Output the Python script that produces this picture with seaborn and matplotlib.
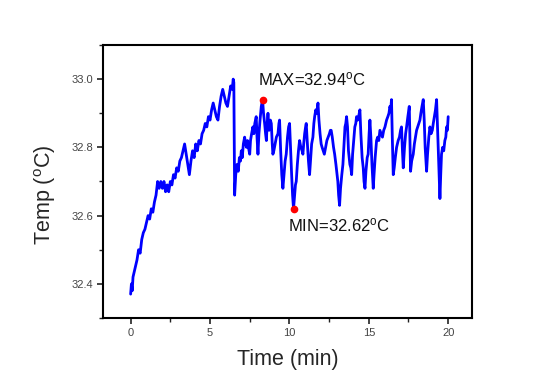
import numpy as np
import pandas as pd
import matplotlib
matplotlib.use("Agg")
import matplotlib.pyplot as plt
import seaborn as sns
from matplotlib.ticker import MultipleLocator

# rising part (0 - 6.5 min)
time_rise = [0.0, 0.05, 0.1, 0.15, 0.2, 0.3, 0.4, 0.5, 0.6, 0.7, 0.8, 0.9, 1.0, 1.1, 1.2, 1.3, 1.4, 1.5, 1.6,
             1.7, 1.8, 1.9, 2.0, 2.1, 2.2, 2.3, 2.4, 2.5, 2.6, 2.7, 2.8, 2.9, 3.0, 3.1, 3.2, 3.3, 3.4, 3.5,
             3.6, 3.7, 3.8, 3.9, 4.0, 4.1, 4.2, 4.3, 4.4, 4.5, 4.6, 4.7, 4.8, 4.9, 5.0, 5.1, 5.2, 5.3, 5.4,
             5.5, 5.6, 5.7, 5.8, 5.9, 6.0, 6.1, 6.2, 6.3, 6.4, 6.46]
temp_rise = [32.37, 32.40, 32.38, 32.42, 32.43, 32.45, 32.47, 32.50, 32.49, 32.53, 32.55, 32.56, 32.58,
             32.60, 32.59, 32.62, 32.61, 32.64, 32.66, 32.70, 32.68, 32.70, 32.68, 32.70, 32.67, 32.69,
             32.67, 32.70, 32.69, 32.72, 32.71, 32.74, 32.73, 32.76, 32.77, 32.79, 32.81, 32.78, 32.75,
             32.72, 32.76, 32.79, 32.77, 32.81, 32.79, 32.82, 32.81, 32.84, 32.85, 32.87, 32.86, 32.89,
             32.88, 32.91, 32.93, 32.91, 32.89, 32.88, 32.92, 32.95, 32.97, 32.95, 32.93, 32.92, 32.95,
             32.98, 32.97, 33.0]

# oscillating part (6.5 - 20 min)
time_osc = [6.50, 6.55, 6.62, 6.70, 6.78, 6.85, 6.92, 6.97, 7.03, 7.10, 7.18, 7.24, 7.30, 7.36, 7.42, 7.50,
            7.55, 7.62, 7.70, 7.76, 7.82, 7.91, 7.96, 8.02, 8.08, 8.15, 8.23, 8.31, 8.37, 8.44, 8.50, 8.55,
            8.60, 8.65, 8.72, 8.80, 8.86, 8.92, 8.96, 9.02, 9.10, 9.18, 9.28, 9.34, 9.38, 9.45, 9.52, 9.59,
            9.66, 9.73, 9.80, 9.88, 9.95, 10.01, 10.07, 10.14, 10.20, 10.26, 10.33, 10.38, 10.43, 10.50,
            10.57, 10.64, 10.72, 10.80, 10.85, 10.90, 10.96, 11.02, 11.06, 11.12, 11.20, 11.27, 11.33,
            11.40, 11.48, 11.54, 11.59, 11.66, 11.72, 11.80, 11.86, 11.93, 12.00, 12.06, 12.13, 12.20,
            12.28, 12.36, 12.44, 12.52, 12.58, 12.63, 12.70, 12.78, 12.85, 12.93, 13.00, 13.05, 13.10,
            13.16, 13.22, 13.30, 13.37, 13.44, 13.50, 13.55, 13.60, 13.66, 13.72, 13.81, 13.87, 13.92,
            13.98, 14.05, 14.12, 14.18, 14.23, 14.30, 14.36, 14.44, 14.50, 14.58, 14.65, 14.70, 14.76,
            14.82, 14.90, 14.96, 15.02, 15.07, 15.13, 15.20, 15.28, 15.33, 15.40, 15.49, 15.56, 15.63,
            15.70, 15.78, 15.86, 15.94, 16.02, 16.12, 16.20, 16.27, 16.33, 16.38, 16.43, 16.48, 16.54,
            16.60, 16.67, 16.75, 16.85, 16.93, 17.00, 17.06, 17.12, 17.17, 17.25, 17.32, 17.38, 17.46,
            17.55, 17.59, 17.63, 17.70, 17.80, 17.87, 17.94, 18.01, 18.08, 18.15, 18.22, 18.28, 18.35,
            18.43, 18.49, 18.55, 18.64, 18.70, 18.78, 18.85, 18.92, 19.00, 19.06, 19.13, 19.20, 19.27,
            19.32, 19.38, 19.43, 19.48, 19.53, 19.58, 19.65, 19.72, 19.79, 19.85, 19.90, 19.95, 20.00]
temp_osc = [32.99, 32.66, 32.72, 32.75, 32.73, 32.77, 32.76, 32.79, 32.77, 32.81, 32.83, 32.81, 32.80,
            32.82, 32.80, 32.78, 32.82, 32.84, 32.86, 32.84, 32.87, 32.89, 32.83, 32.78, 32.84, 32.88,
            32.92, 32.94, 32.90, 32.87, 32.84, 32.82, 32.87, 32.90, 32.85, 32.88, 32.87, 32.81, 32.78,
            32.79, 32.81, 32.83, 32.84, 32.87, 32.88, 32.79, 32.72, 32.68, 32.72, 32.76, 32.78, 32.83,
            32.86, 32.87, 32.80, 32.72, 32.66, 32.62, 32.66, 32.69, 32.70, 32.75, 32.79, 32.82, 32.80,
            32.79, 32.78, 32.81, 32.84, 32.86, 32.87, 32.82, 32.76, 32.72, 32.76, 32.81, 32.83, 32.87,
            32.89, 32.91, 32.90, 32.93, 32.88, 32.84, 32.81, 32.80, 32.79, 32.78, 32.80, 32.82, 32.83,
            32.84, 32.85, 32.85, 32.83, 32.80, 32.78, 32.75, 32.72, 32.70, 32.66, 32.63, 32.68, 32.72,
            32.75, 32.81, 32.86, 32.87, 32.89, 32.86, 32.79, 32.75, 32.74, 32.72, 32.78, 32.82, 32.86,
            32.87, 32.89, 32.88, 32.89, 32.91, 32.84, 32.77, 32.74, 32.70, 32.68, 32.73, 32.77, 32.78,
            32.84, 32.88, 32.83, 32.75, 32.68, 32.72, 32.77, 32.82, 32.83, 32.82, 32.85, 32.84, 32.83,
            32.85, 32.86, 32.88, 32.89, 32.90, 32.92, 32.91, 32.94, 32.83, 32.72, 32.74, 32.77, 32.80,
            32.82, 32.83, 32.85, 32.86, 32.79, 32.74, 32.80, 32.84, 32.86, 32.89, 32.92, 32.83, 32.73,
            32.76, 32.78, 32.81, 32.83, 32.85, 32.86, 32.87, 32.88, 32.90, 32.92, 32.94, 32.88, 32.80,
            32.73, 32.78, 32.83, 32.86, 32.84, 32.85, 32.87, 32.89, 32.91, 32.94, 32.87, 32.78, 32.71,
            32.65, 32.72, 32.78, 32.80, 32.79, 32.82, 32.83, 32.86, 32.85, 32.89]

max_point = (8.31, 32.94)
min_point = (10.26, 32.62)
max_label = "MAX=32.94$\\mathregular{^o}$C"
min_label = "MIN=32.62$\\mathregular{^o}$C"
x_ticks = [0, 5, 10, 15, 20]
y_ticks = [32.4, 32.6, 32.8, 33.0]

sns.set_style("ticks")
plt.rcParams["font.family"] = ["Liberation Sans", "DejaVu Sans"]
plt.rcParams["mathtext.fontset"] = "custom"
plt.rcParams["mathtext.rm"] = "Liberation Sans"
plt.rcParams["mathtext.it"] = "Liberation Sans:italic"
plt.rcParams["mathtext.bf"] = "Liberation Sans:bold"

df = pd.DataFrame({"Time": time_rise + time_osc, "Temp": temp_rise + temp_osc})

fig = plt.figure(figsize=(5.4, 3.78), dpi=100)
fig.patch.set_facecolor("white")
ax = fig.add_axes([103 / 540, 1 - 318 / 378, (472 - 103) / 540, (318 - 45) / 378])

sns.lineplot(data=df, x="Time", y="Temp", ax=ax, color="#0000ff", linewidth=2.0,
             estimator=None, sort=False)

ax.plot([max_point[0]], [max_point[1]], "o", color="#ff0000", markersize=4.5, zorder=5)
ax.plot([min_point[0]], [min_point[1]], "o", color="#ff0000", markersize=4.5, zorder=5)
ax.text(8.02, 32.982, max_label, fontsize=12, va="baseline", ha="left", color="#111111")
ax.text(9.89, 32.553, min_label, fontsize=12, va="baseline", ha="left", color="#111111")

ax.set_xlim(-1.74, 21.5)
ax.set_ylim(32.3, 33.1)
ax.set_xticks(x_ticks)
ax.set_xticklabels([str(t) for t in x_ticks])
ax.set_yticks(y_ticks)
ax.set_yticklabels([f"{t:.1f}" for t in y_ticks])
ax.xaxis.set_minor_locator(MultipleLocator(2.5))
ax.yaxis.set_minor_locator(MultipleLocator(0.1))

ax.tick_params(axis="both", which="major", direction="out", length=4, width=1.2,
               labelsize=8, colors="#222222", labelcolor="#444444", pad=3)
ax.tick_params(axis="both", which="minor", direction="out", length=3, width=1.0, colors="#222222")

for s in ax.spines.values():
    s.set_visible(True)
    s.set_linewidth(1.5)
    s.set_color("black")

ax.set_xlabel("Time (min)", fontsize=15.5, labelpad=8)
ax.set_ylabel("Temp ($\\mathregular{^o}$C)", fontsize=15.5)
ax.yaxis.set_label_coords(-0.121, 0.45)

fig.savefig("out.png", dpi=100, facecolor="white")
